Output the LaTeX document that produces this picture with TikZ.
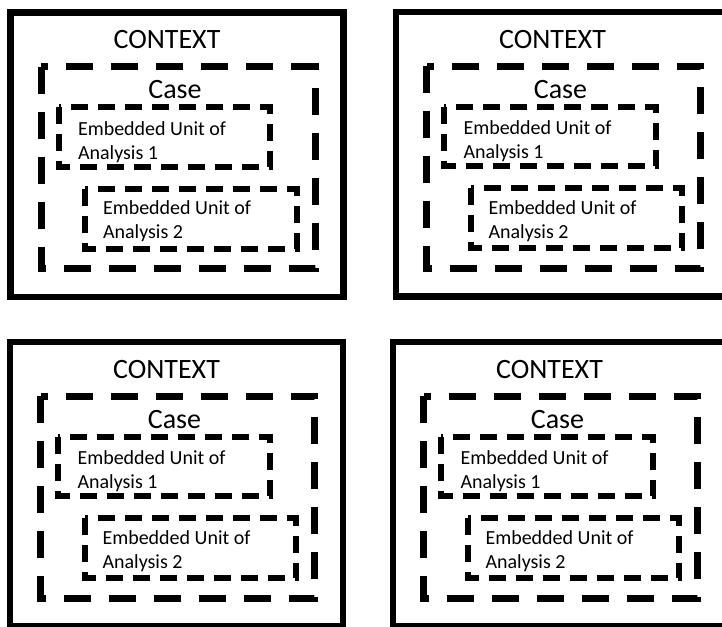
\documentclass[tikz,border=0pt]{standalone}
\usepackage{fontspec}
\setmainfont{Carlito}
\begin{document}
\begin{tikzpicture}[x=1pt,y=-1pt,
    outer/.style={line width=6.5pt},
    casebox/.style={line width=7pt, dash pattern=on 27pt off 18pt},
    unitbox/.style={line width=6pt, dash pattern=on 17pt off 10pt},
    big/.style={font=\fontsize{28}{32}\selectfont},
    unit/.style={font=\fontsize{20}{24}\selectfont, align=left, anchor=west}]
    \useasboundingbox (0,0) rectangle (722,626);
    \clip (0,0) rectangle (722,626);
    % four copies of the same context/case layout
    \foreach \px/\py/\n in {10.5/12.5/1, 396/12/2, 10/342/3, 393/342/4} {
      \begin{scope}[shift={(\px,\py)}]
        \draw[outer] (0,0) rectangle (333,284.5);
        \node[big] (context\n) at (156.5,27.5) {CONTEXT};
        \draw[casebox] (30.5,54) rectangle (304.5,256);
        \node[big] (case\n) at (164.5,77.5) {Case};
        \draw[unitbox] (48,94.5) rectangle (259.5,154);
        \node[unit] (unitA\n) at (64,129.5) {Embedded Unit of\\Analysis 1};
        \draw[unitbox] (74.5,176) rectangle (286,236);
        \node[unit] (unitB\n) at (89,209) {Embedded Unit of\\Analysis 2};
      \end{scope}
    }
\end{tikzpicture}
\end{document}
